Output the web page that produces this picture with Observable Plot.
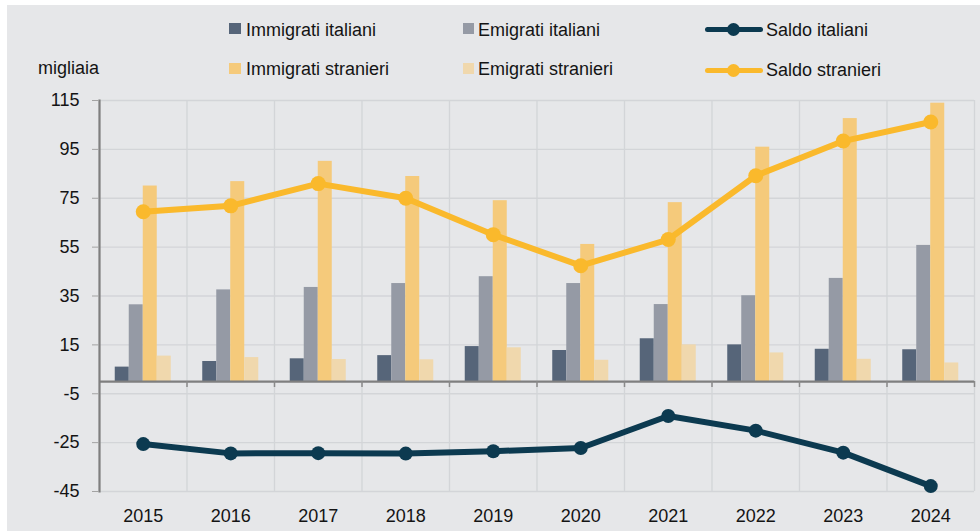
<!DOCTYPE html>
<html>
<head>
<meta charset="utf-8">
<script src="https://cdn.jsdelivr.net/npm/d3@7"></script>
<script src="https://cdn.jsdelivr.net/npm/@observablehq/plot@0.6"></script>
<style>
  html, body { margin: 0; padding: 0; background: #ffffff; width: 980px; height: 531px; overflow: hidden;
    font-family: "Liberation Sans", Arial, sans-serif; }
  #panel { position: absolute; left: 7px; top: 5px; width: 973px; height: 526px; background: #e6e7e9; }
  #chart { position: absolute; left: 0; top: 0; }
  #legend { position: absolute; left: 0; top: 0; width: 980px; height: 100px; pointer-events: none; }
  .lt { position: absolute; font-size: 18px; line-height: 18px; color: #141414; white-space: nowrap; }
  .sw { position: absolute; width: 11.5px; height: 11.5px; }
  .ln { position: absolute; height: 5px; border-radius: 2.5px; }
  .dt { position: absolute; width: 13px; height: 13px; border-radius: 50%; }
</style>
</head>
<body>
<div id="panel"><div id="chart"></div></div>
<div id="legend"></div>
<script>
// ---- data (migliaia) ----
const years = [2015, 2016, 2017, 2018, 2019, 2020, 2021, 2022, 2023, 2024];
const immigratiItaliani  = [5.9, 8.2, 9.3, 10.6, 14.3, 12.7, 17.5, 15.0, 13.2, 13.0];
const emigratiItaliani   = [31.4, 37.5, 38.5, 40.1, 42.9, 40.1, 31.5, 35.1, 42.2, 55.7];
const immigratiStranieri = [80.0, 81.8, 90.1, 83.9, 74.0, 56.1, 73.2, 95.9, 107.6, 113.9];
const emigratiStranieri  = [10.4, 9.8, 9.0, 8.9, 13.8, 8.7, 15.0, 11.7, 9.1, 7.6];
const saldoItaliani      = [-25.6, -29.4, -29.3, -29.5, -28.5, -27.2, -14.1, -20.1, -29.1, -42.8];
const saldoStranieri     = [69.5, 71.9, 81.0, 75.0, 60.1, 47.4, 58.1, 84.2, 98.4, 106.2];
const yTicks = [-45, -25, -5, 15, 35, 55, 75, 95, 115];

const barSeries = ["Immigrati italiani", "Emigrati italiani", "Immigrati stranieri", "Emigrati stranieri"];
const barValues = [immigratiItaliani, emigratiItaliani, immigratiStranieri, emigratiStranieri];
const barColors = ["#566579", "#959aa5", "#f5ca7b", "#f0d8ad"];
const lineSeries = ["Saldo italiani", "Saldo stranieri"];
const lineColors = ["#0c3a50", "#fab92c"];

// ---- tables built from the arrays ----
const barWidth = 0.16;
const bars = [];
barSeries.forEach((s, k) => {
  years.forEach((yr, i) => {
    const c = yr + (k - 1.5) * barWidth;
    bars.push({series: s, x1: c - barWidth / 2, x2: c + barWidth / 2, value: barValues[k][i]});
  });
});
const saldoI = years.map((yr, i) => ({year: yr, value: saldoItaliani[i]}));
const saldoS = years.map((yr, i) => ({year: yr, value: saldoStranieri[i]}));
const bounds = years.map(y => y - 0.5).concat([years[years.length - 1] + 0.5]);

const grid = "#d3d5d8";
const chart = Plot.plot({
  width: 973,
  height: 526,
  marginLeft: 92,
  marginRight: 6,
  marginTop: 95,
  marginBottom: 40,
  style: {background: "transparent", fontFamily: "'Liberation Sans', Arial, sans-serif", fontSize: "18px", color: "#141414"},
  x: {type: "linear", domain: [bounds[0], bounds[bounds.length - 1]]},
  y: {domain: [yTicks[0], yTicks[yTicks.length - 1]]},
  color: {domain: barSeries, range: barColors},
  marks: [
    Plot.ruleY(yTicks, {stroke: grid, strokeWidth: 1.3}),
    Plot.ruleX(bounds, {stroke: grid, strokeWidth: 1.3}),
    Plot.rectY(bars, {x1: "x1", x2: "x2", y1: 0, y2: "value", fill: "series"}),
    Plot.ruleY([0], {stroke: "#7f7f7f", strokeWidth: 2.2}),
    Plot.ruleX(bounds.slice(1), {y1: 0, y2: 0, insetBottom: -6, stroke: "#8a8a8a", strokeWidth: 1.5}),
    Plot.frame({anchor: "left", stroke: "#7f7f7f", strokeWidth: 2.2}),
    Plot.lineY(saldoS, {x: "year", y: "value", stroke: lineColors[1], strokeWidth: 6, strokeLinejoin: "round"}),
    Plot.dot(saldoS, {x: "year", y: "value", r: 7.5, fill: lineColors[1]}),
    Plot.lineY(saldoI, {x: "year", y: "value", stroke: lineColors[0], strokeWidth: 6, strokeLinejoin: "round"}),
    Plot.dot(saldoI, {x: "year", y: "value", r: 7, fill: lineColors[0]}),
    Plot.axisY(yTicks, {tickSize: 7, tickPadding: 13, stroke: "#a3a3a3", fill: "#141414", tickFormat: d => String(d), label: null, fontSize: 18}),
    Plot.axisX(years, {anchor: "bottom", tickSize: 0, tickPadding: 18, fill: "#141414", tickFormat: d => String(d), label: null, fontSize: 18})
  ]
});
document.getElementById("chart").appendChild(chart);

// ---- legend ----
const legend = document.getElementById("legend");
function add(cls, styles, text) {
  const el = document.createElement("div");
  el.className = cls;
  Object.assign(el.style, styles);
  if (text) el.textContent = text;
  legend.appendChild(el);
}
const sqPos = [[229, 22.7], [462.5, 22.7], [229, 62.5], [462.5, 62.5]];
const txPos = [[246, 20.8], [478, 20.8], [246, 60.3], [478, 60.3]];
barSeries.forEach((s, k) => {
  add("sw", {left: sqPos[k][0] + "px", top: sqPos[k][1] + "px", background: barColors[k]});
  add("lt", {left: txPos[k][0] + "px", top: txPos[k][1] + "px"}, s);
});
const lnY = [29, 70];
const lnTx = [20.8, 60.5];
lineSeries.forEach((s, k) => {
  add("ln", {left: "705px", width: "58px", top: (lnY[k] - 2.5) + "px", background: lineColors[k]});
  add("dt", {left: (733 - 6.5) + "px", top: (lnY[k] - 6.5) + "px", background: lineColors[k]});
  add("lt", {left: "766px", top: lnTx[k] + "px"}, s);
});
add("lt", {left: "38px", top: "58.5px"}, "migliaia");
</script>
</body>
</html>
